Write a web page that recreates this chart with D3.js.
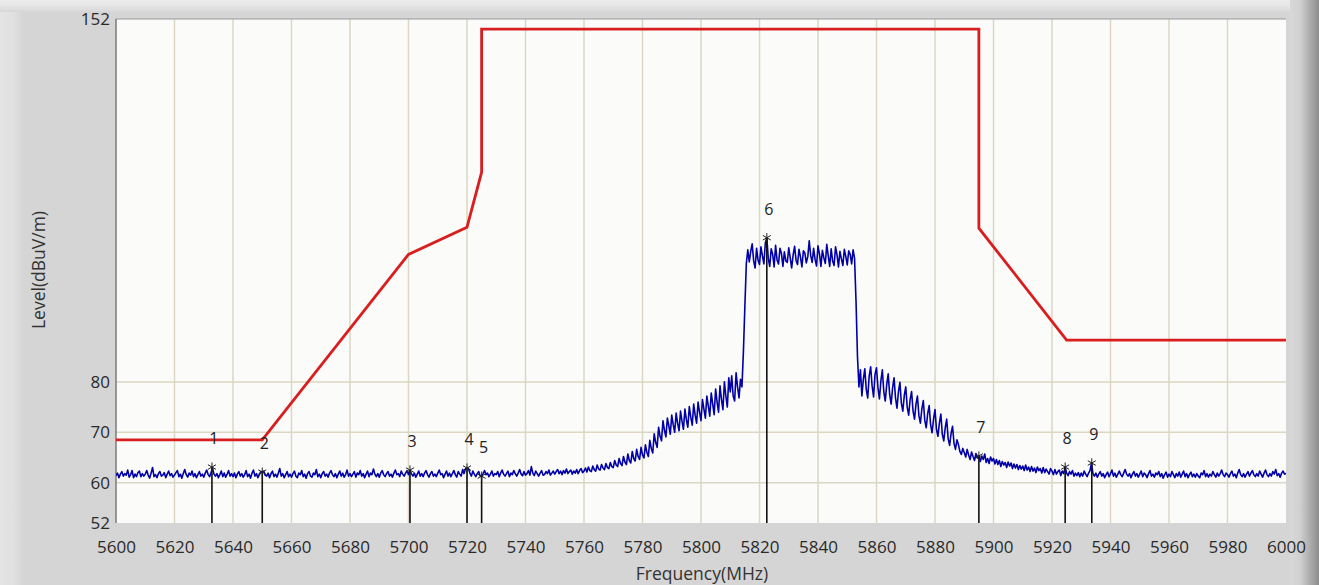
<!DOCTYPE html>
<html><head><meta charset="utf-8">
<script src="https://cdn.jsdelivr.net/npm/d3@7"></script>
<style>
html,body{margin:0;padding:0;background:#d5d5d5;overflow:hidden}
svg{display:block}
text{font-family:"Open Sans","Noto Sans",sans-serif}
</style></head><body><svg id="c" width="1319" height="585"></svg>
<script>
// ---- data ----
const traceStart = 5600, traceStep = 0.5; // MHz
const traceLevel = [
61.4,61.9,61.0,61.7,62.2,61.3,61.8,61.5,62.5,61.1,61.6,62.4,61.0,61.7,61.2,62.0,62.3,61.2,61.8,61.3,
61.7,62.4,61.5,60.9,61.9,63.0,61.2,61.6,61.0,61.8,62.2,61.3,61.5,62.0,61.0,61.7,62.3,61.4,61.8,61.1,
61.5,62.0,62.4,61.2,61.7,60.9,61.8,62.6,61.6,61.1,61.9,61.5,62.3,61.2,61.8,61.0,61.6,62.2,61.3,61.7,
61.1,61.9,62.5,61.6,61.2,62.0,62.9,61.7,61.3,61.8,61.0,61.6,62.3,61.2,61.9,61.1,61.7,62.4,61.3,61.8,
61.2,61.9,61.0,61.7,62.2,61.3,61.8,61.1,61.6,62.4,61.2,61.7,60.9,61.9,62.5,61.3,61.8,61.0,61.6,62.2,
62.1,62.3,61.5,61.3,61.9,61.0,61.8,62.3,61.2,61.7,61.1,61.9,62.8,61.3,61.8,61.0,61.6,62.2,61.2,61.7,
61.1,61.8,62.3,61.3,61.0,61.9,61.6,62.4,61.2,61.7,60.9,61.8,62.2,61.3,61.1,61.9,61.6,62.6,61.2,61.7,
61.0,61.8,62.2,61.3,61.7,61.1,61.9,62.4,61.6,61.2,61.8,61.0,61.7,62.3,61.3,61.9,61.1,61.6,62.5,61.3,
61.8,61.2,61.7,62.2,61.1,61.9,61.6,62.4,61.3,61.8,61.0,61.7,62.3,61.2,61.9,61.6,62.7,61.7,61.2,61.8,
61.1,61.9,62.4,61.6,61.2,61.8,62.2,61.3,61.7,61.1,61.9,62.5,61.6,61.8,61.2,62.3,61.7,61.3,61.9,62.4,
61.6,62.4,61.8,61.3,61.9,61.1,61.7,62.3,61.3,61.8,61.2,61.9,62.4,61.6,61.1,61.8,62.2,61.3,61.7,61.2,
61.9,62.5,61.6,61.8,61.0,61.7,62.3,61.3,61.9,61.2,61.8,62.4,61.6,61.1,62.2,61.7,61.3,62.6,61.8,62.8,
62.9,62.8,61.9,61.3,62.3,61.7,61.2,61.8,62.2,61.3,61.3,61.8,62.4,61.6,61.9,61.2,61.7,62.3,61.3,61.8,
61.6,62.2,61.2,61.9,62.5,61.7,61.3,61.8,62.3,61.2,61.9,61.6,62.4,61.8,61.3,61.9,62.6,61.7,61.4,62.2,
61.5,61.8,62.4,61.5,63.2,61.9,61.4,62.3,61.8,61.3,61.9,62.4,61.5,61.6,62.2,61.8,62.5,61.5,61.9,62.3,
61.7,62.2,62.6,61.8,62.3,61.6,62.4,61.9,62.7,61.8,62.2,62.5,61.7,62.3,61.9,62.6,61.8,62.4,62.8,62.0,
62.3,62.9,62.1,63.1,62.4,62.2,63.3,62.6,62.3,63.5,62.7,62.5,63.6,62.9,62.6,63.8,63.0,62.8,64.0,63.2,
63.0,64.4,63.5,63.2,64.8,63.8,63.4,65.2,64.1,63.6,65.7,64.4,63.9,66.2,64.8,64.3,66.6,65.2,64.6,67.0,
65.5,64.9,67.5,66.0,65.2,68.4,66.8,65.9,69.7,68.0,67.0,71.0,69.2,68.3,72.3,70.4,69.1,72.8,71.3,69.6,
73.4,71.5,70.0,73.8,71.8,70.3,74.2,72.2,70.6,74.6,72.5,71.0,75.1,73.0,71.4,75.6,73.4,71.8,76.0,74.0,
72.3,76.5,74.6,72.8,77.2,75.2,73.2,77.8,75.6,73.5,78.6,76.0,74.0,79.2,76.5,74.5,80.0,77.2,75.0,80.8,
78.0,81.2,77.2,76.2,81.8,79.0,76.8,80.5,79.0,86.0,95.0,103.5,106.2,103.8,105.9,107.4,104.0,102.6,106.5,104.2,
103.3,106.8,105.0,103.4,107.6,108.6,104.5,102.9,106.4,105.3,102.8,107.1,104.2,103.4,106.5,105.5,102.9,105.8,104.0,103.7,
106.6,104.6,102.6,105.2,106.9,104.1,103.3,106.3,104.8,102.8,106.0,105.6,103.6,104.8,108.0,105.1,103.7,106.5,104.3,103.0,
107.0,105.4,102.9,106.1,104.6,103.5,107.3,105.0,102.9,106.4,104.0,103.1,106.8,105.2,102.8,105.9,104.4,103.1,106.3,104.9,
103.2,106.0,105.3,103.4,106.2,104.5,96.0,85.0,79.0,82.4,77.2,80.5,82.6,78.5,76.8,81.2,83.0,79.2,77.0,81.5,
82.8,78.8,76.6,80.2,82.4,78.0,76.2,79.5,81.6,77.5,75.6,78.8,80.8,76.8,74.8,78.0,79.9,75.8,74.2,77.3,
79.0,75.0,73.4,76.5,78.1,74.2,72.6,75.6,77.2,73.3,71.8,74.6,76.3,72.4,70.9,73.7,75.3,71.5,69.9,72.6,
74.5,70.6,69.2,71.8,73.6,69.6,68.3,70.9,72.6,68.7,67.4,69.8,71.2,67.8,66.6,68.5,67.6,66.2,65.6,66.8,
66.0,65.1,66.6,65.5,64.6,66.1,65.2,64.4,65.8,64.9,65.3,64.2,65.3,64.6,65.7,64.0,64.8,63.8,65.1,64.3,
64.8,63.7,64.6,63.6,64.4,63.2,64.2,63.5,64.0,63.0,64.1,63.3,63.9,62.8,63.7,62.9,63.6,62.6,63.4,62.7,
63.3,62.4,63.5,62.5,63.1,62.2,63.2,62.3,62.9,62.0,63.1,62.4,62.8,61.9,63.0,62.0,62.7,62.2,61.7,62.8,
62.3,61.6,62.6,61.7,62.2,62.5,61.4,62.3,61.8,63.1,61.9,61.4,62.2,61.7,62.4,61.3,61.9,61.4,62.0,61.2,
61.9,61.3,62.3,61.7,61.2,61.9,62.4,63.9,61.8,61.3,61.9,61.1,61.7,62.2,61.3,61.8,61.0,61.6,62.1,61.2,
61.8,62.5,61.3,61.9,61.1,61.7,62.3,61.6,61.2,61.9,62.6,61.7,61.3,61.8,61.0,61.7,62.2,61.3,61.8,61.1,
61.7,62.3,61.2,61.9,61.6,61.0,61.8,62.4,61.3,61.7,61.1,61.9,61.6,62.2,61.2,61.8,60.9,61.6,62.1,61.1,
61.7,61.2,62.2,61.6,61.0,61.8,61.3,62.1,61.1,61.7,62.3,61.2,61.8,61.0,61.6,62.1,61.2,61.7,61.1,61.8,
61.3,61.0,61.9,61.6,62.4,61.2,61.8,61.1,61.7,61.3,62.2,61.6,61.1,61.9,61.3,61.8,62.5,61.6,61.2,61.9,
61.6,61.1,61.8,62.3,61.3,61.7,61.0,61.9,62.6,61.6,61.2,61.8,61.1,61.7,62.2,61.3,61.9,62.4,61.6,61.2,
61.8,61.3,62.3,61.7,61.1,61.9,62.5,61.6,61.2,61.8,61.3,62.2,61.7,62.6,61.4,61.8,61.1,61.9,62.3,61.7,
61.8
];
const limitFreq  = [5600, 5650, 5700, 5720, 5725, 5725, 5895, 5895, 5925, 6000];
const limitLevel = [68.5, 68.5, 105.3, 110.7, 121.6, 150, 150, 110.5, 88.3, 88.3];
const markerId    = ["1","2","3","4","5","6","7","8","9"];
const markerFreq  = [5632.8, 5650, 5700.5, 5720, 5725, 5822.5, 5895, 5924.5, 5933.6];
const markerLevel = [63.1, 62.1, 62.5, 62.9, 61.3, 108.6, 65.3, 63.1, 63.9];
const xTickValues = [5600,5620,5640,5660,5680,5700,5720,5740,5760,5780,5800,5820,5840,5860,5880,5900,5920,5940,5960,5980,6000];
const yTickValues = [52,60,70,80,152];
const yGridValues = [60,70,80];
const xTitle = "Frequency(MHz)";
const yTitle = "Level(dBuV/m)";

// ---- drawing ----
const W = 1319, H = 585;
const L = 116, R = 1286, T = 19, B = 523;
const svg = d3.select("#c");
const defs = svg.append("defs");

const gTop = defs.append("linearGradient").attr("id","gTop").attr("x1",0).attr("y1",0).attr("x2",0).attr("y2",1);
gTop.append("stop").attr("offset",0).attr("stop-color","#ececec");
gTop.append("stop").attr("offset",0.5).attr("stop-color","#e6e6e6");
gTop.append("stop").attr("offset",1).attr("stop-color","#d6d6d6");
const gLeft = defs.append("linearGradient").attr("id","gLeft").attr("x1",0).attr("y1",0).attr("x2",1).attr("y2",0);
gLeft.append("stop").attr("offset",0).attr("stop-color","#e4e4e4");
gLeft.append("stop").attr("offset",0.55).attr("stop-color","#e0e0e0");
gLeft.append("stop").attr("offset",1).attr("stop-color","#d5d5d5");
const gRight = defs.append("linearGradient").attr("id","gRight").attr("x1",0).attr("y1",0).attr("x2",1).attr("y2",0);
gRight.append("stop").attr("offset",0).attr("stop-color","#d8d8d8");
gRight.append("stop").attr("offset",0.35).attr("stop-color","#d0d0d0");
gRight.append("stop").attr("offset",1).attr("stop-color","#8c8c8c");

svg.append("rect").attr("width",W).attr("height",H).attr("fill","#d5d5d5");
svg.append("rect").attr("x",0).attr("y",0).attr("width",24).attr("height",H).attr("fill","url(#gLeft)");
svg.append("rect").attr("x",0).attr("y",0).attr("width",W).attr("height",12).attr("fill","url(#gTop)");
svg.append("rect").attr("x",1290).attr("y",0).attr("width",W-1290).attr("height",H).attr("fill","url(#gRight)");

const x = d3.scaleLinear().domain([5600,6000]).range([L,R]);
const y = d3.scaleLinear().domain([52,152]).range([B,T]);

svg.append("rect").attr("x",L).attr("y",T).attr("width",R-L).attr("height",B-T).attr("fill","#fbfbfa");

// grid
const grid = svg.append("g").attr("stroke","#dcd7c2").attr("stroke-width",1.5);
grid.selectAll("line.v").data(xTickValues.filter(v=>v>5600 && v<6000)).join("line")
  .attr("x1",d=>x(d)).attr("x2",d=>x(d)).attr("y1",T).attr("y2",B);
grid.selectAll("line.h").data(yGridValues).join("line")
  .attr("x1",L).attr("x2",R).attr("y1",d=>y(d)).attr("y2",d=>y(d));

// frame
svg.append("line").attr("x1",L).attr("x2",R).attr("y1",T).attr("y2",T).attr("stroke","#9a9a9a").attr("stroke-width",1.2);
svg.append("line").attr("x1",L).attr("x2",L).attr("y1",T).attr("y2",B).attr("stroke","#7a7a7a").attr("stroke-width",1.5);

// axes
const xAxis = d3.axisBottom(x).tickValues(xTickValues).tickSize(0).tickPadding(18).tickFormat(d3.format("d"));
const gx = svg.append("g").attr("transform",`translate(0,${B})`).call(xAxis);
gx.select(".domain").remove();
gx.selectAll("text").attr("font-size",17).attr("fill","#2a2a2a").attr("font-family","'Open Sans',sans-serif");

const yAxis = d3.axisLeft(y).tickValues(yTickValues).tickSize(0).tickPadding(6).tickFormat(d3.format("d"));
const gy = svg.append("g").attr("transform",`translate(${L},0)`).call(yAxis);
gy.select(".domain").remove();
gy.selectAll("text").attr("font-size",17).attr("fill","#2a2a2a").attr("font-family","'Open Sans',sans-serif");

// titles
svg.append("text").attr("x",(L+R)/2+1).attr("y",580).attr("text-anchor","middle")
  .attr("font-size",17.5).attr("fill","#333").text(xTitle);
svg.append("text").attr("transform","translate(45,270) rotate(-90)").attr("text-anchor","middle")
  .attr("font-size",17.5).attr("fill","#333").text(yTitle);

// clip
defs.append("clipPath").attr("id","plotClip").append("rect").attr("x",L).attr("y",T).attr("width",R-L).attr("height",B-T);
const plot = svg.append("g").attr("clip-path","url(#plotClip)");

// trace
const traceData = traceLevel.map((v,i)=>[traceStart + i*traceStep, v]);
plot.append("path").datum(traceData)
  .attr("fill","none").attr("stroke","#0000a6").attr("stroke-width",1.6).attr("stroke-linejoin","round")
  .attr("d", d3.line().x(d=>x(d[0])).y(d=>y(d[1])));

// limit
const limitData = limitFreq.map((f,i)=>[f, limitLevel[i]]);
plot.append("path").datum(limitData)
  .attr("fill","none").attr("stroke","#d81e1e").attr("stroke-width",2.8).attr("stroke-linejoin","miter")
  .attr("d", d3.line().x(d=>x(d[0])).y(d=>y(d[1])));

// markers
const markers = markerId.map((id,i)=>({id, f:markerFreq[i], v:markerLevel[i]}));
const mg = plot.selectAll("g.mk").data(markers).join("g").attr("class","mk");
mg.append("line").attr("x1",d=>x(d.f)).attr("x2",d=>x(d.f)).attr("y1",d=>y(d.v)).attr("y2",B)
  .attr("stroke","#111").attr("stroke-width",1.6);
mg.append("path").attr("transform",d=>`translate(${x(d.f)},${y(d.v)})`)
  .attr("d", d3.symbol().type(d3.symbolAsterisk).size(60)())
  .attr("fill","none").attr("stroke","#222").attr("stroke-width",1);
mg.append("text").attr("x",d=>x(d.f)+2).attr("y",d=>y(d.v)-23).attr("text-anchor","middle")
  .attr("font-size",16).attr("fill","#222").text(d=>d.id);
</script></body></html>
